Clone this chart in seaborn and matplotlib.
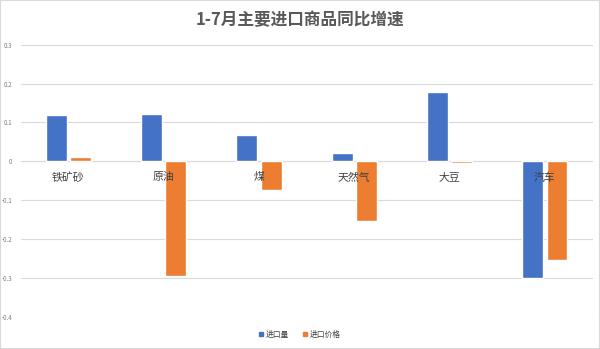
import matplotlib
matplotlib.use("Agg")
import matplotlib.pyplot as plt
from matplotlib.patches import Rectangle
from matplotlib.lines import Line2D
import seaborn as sns
import pandas as pd

categories = ["铁矿砂", "原油", "煤", "天然气", "大豆", "汽车"]
volume = [0.119, 0.121, 0.068, 0.021, 0.178, -0.300]
price = [0.012, -0.295, -0.075, -0.154, -0.004, -0.253]
series = ["进口量", "进口价格"]
colors = ["#4472C4", "#ED7D31"]
yticks = [0.3, 0.2, 0.1, 0, -0.1, -0.2, -0.3, -0.4]
ytick_labels = ["0.3", "0.2", "0.1", "0", "-0.1", "-0.2", "-0.3", "-0.4"]
title = "1-7月主要进口商品同比增速"

df = pd.DataFrame({
    "cat": categories * 2,
    "series": [series[0]] * len(categories) + [series[1]] * len(categories),
    "value": volume + price,
})

sns.set_theme(style="white")
plt.rcParams["font.family"] = ["Noto Sans CJK SC", "DejaVu Sans"]

fig = plt.figure(figsize=(6, 3.49), dpi=100)
ax = fig.add_axes([0.0345, 0.0925, 0.953, 0.7795])

sns.barplot(data=df, x="cat", y="value", hue="series", order=categories,
            hue_order=series, palette=colors,
            width=0.51, gap=0.14, ax=ax, legend=False, saturation=1)

ax.set_ylim(-0.4, 0.3)
ax.set_xlim(-0.5, len(categories) - 0.5)
ax.set_yticks(yticks)
ax.set_yticklabels(ytick_labels)
ax.yaxis.grid(True, color="#D9D9D9", linewidth=0.8)
ax.set_axisbelow(True)
ax.xaxis.set_zorder(3)

for s in ["top", "right", "left"]:
    ax.spines[s].set_visible(False)
ax.spines["bottom"].set_position(("data", 0))
ax.spines["bottom"].set_color("#D9D9D9")
ax.spines["bottom"].set_linewidth(0.8)
ax.spines["bottom"].set_zorder(0.6)

ax.tick_params(axis="x", length=0, pad=8, labelsize=7.8, labelcolor="#404040")
for lbl in ax.get_xticklabels():
    lbl.set_fontweight("medium")
ax.tick_params(axis="y", length=0, pad=6, labelsize=4.5, labelcolor="#7F7F7F")
ax.set_xlabel("")
ax.set_ylabel("")

handles = [Line2D([], [], linestyle="none", marker="s", markersize=3.5,
                  markerfacecolor=c, markeredgecolor=c) for c in colors]
fig.legend(handles, series, loc="center", bbox_to_anchor=(0.5, 1 - 335 / 349),
           ncol=2, frameon=False, fontsize=5.6, handlelength=0.6,
           handletextpad=0.3, columnspacing=1.8, labelcolor="#404040")

fig.text(0.5, 1 - 20 / 349, title, ha="center", va="center", fontsize=12,
         fontweight="bold", color="#595959")

fig.add_artist(Rectangle((0, 0), 1, 1, transform=fig.transFigure, fill=False,
                         edgecolor="#D9D9D9", linewidth=1.5))

fig.savefig("out.png", dpi=100, facecolor="white")
